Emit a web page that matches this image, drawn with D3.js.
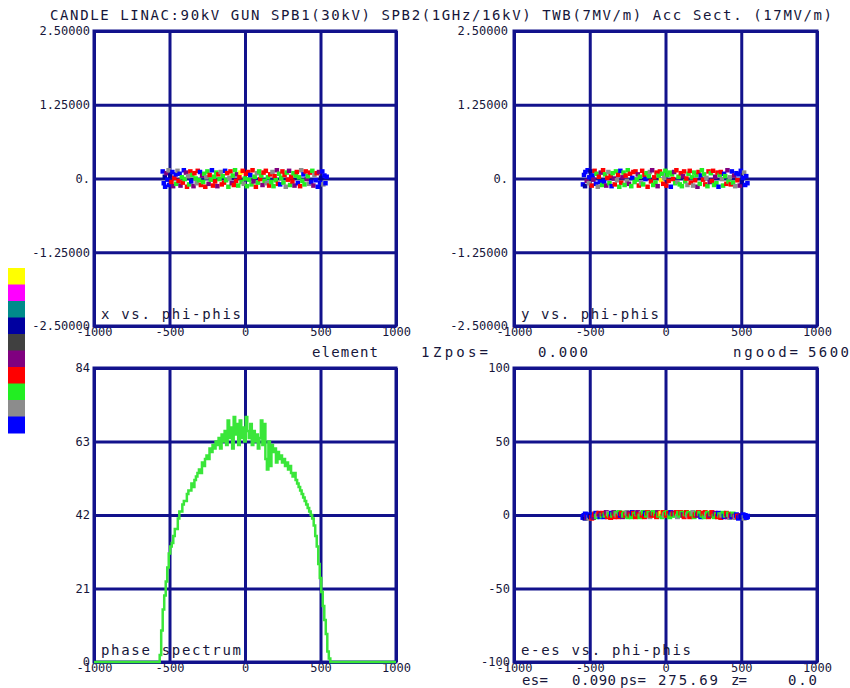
<!DOCTYPE html>
<html><head><meta charset="utf-8">
<script src="https://cdn.jsdelivr.net/npm/d3@7"></script>
<style>
html,body{margin:0;padding:0;background:#fff;}
svg{display:block;}
text{font-family:"DejaVu Sans Mono",monospace;fill:#16163a;}
</style>
</head><body><svg id="c" width="850" height="688"></svg>
<script>
// ---------- DATA ----------
const titleText = "CANDLE LINAC:90kV GUN SPB1(30kV)   SPB2(1GHz/16kV) TWB(7MV/m) Acc Sect. (17MV/m)";
const legendColors = ["#ffff00","#ff00ff","#008b8b","#0000a0","#404040","#800080","#ff0000","#22ee22","#8c8c8c","#0000ff"];

const phiTicks = [-1000,-500,0,500,1000];
const phiTickLabels = ["-1000","-500","0","500","1000"];
const xyTicks = [2.5,1.25,0,-1.25,-2.5];
const xyTickLabels = ["2.50000","1.25000","0.","-1.25000","-2.50000"];
const specTicks = [84,63,42,21,0];
const specTickLabels = ["84","63","42","21","0"];
const deTicks = [100,50,0,-50,-100];
const deTickLabels = ["100","50","0","-50","-100"];

// particle phases (deg), transverse x, y (cm), energy deviation, colour index
const phase = [-545,-538,-531,-529,-520,-514,-506,-503,-495,-487,
-481,-476,-468,-459,-455,-447,-440,-433,-427,-418,
-412,-405,-399,-391,-384,-377,-370,-362,-356,-349,
-341,-335,-327,-320,-313,-305,-298,-292,-284,-277,
-270,-263,-255,-249,-241,-234,-226,-219,-212,-204,
-198,-190,-183,-176,-169,-161,-154,-147,-139,-132,
-125,-118,-110,-103,-96,-88,-81,-74,-66,-59,
-52,-45,-37,-30,-23,-15,-8,-1,6,13,
21,28,35,43,50,57,64,72,79,86,
94,101,108,116,123,130,138,145,152,160,
167,174,182,189,196,204,211,218,226,233,
240,248,255,262,270,277,284,292,299,306,
314,321,328,336,343,350,358,365,372,380,
387,394,402,409,416,424,431,438,446,453,
460,468,475,482,490,497,504,512,519,526,
533,541];
const xVal = [0.12,-0.08,0.03,-0.14,0.09,-0.02,0.14,-0.11,0.05,-0.06,
0.11,-0.13,0.01,0.07,-0.09,0.13,-0.04,0.08,-0.12,0.02,
-0.07,0.14,-0.01,0.1,-0.14,0.04,-0.1,0.12,-0.05,0.06,
-0.13,0.09,0.0,-0.08,0.13,-0.03,0.11,-0.11,0.05,-0.06,
0.08,-0.14,0.02,0.12,-0.09,0.06,-0.02,0.14,-0.12,0.03,
-0.05,0.1,-0.13,0.07,-0.01,0.11,-0.1,0.04,-0.07,0.13,
-0.03,0.09,-0.14,0.01,0.12,-0.08,0.05,-0.11,0.14,-0.04,
0.07,-0.12,0.02,0.1,-0.06,0.13,-0.09,0.0,0.08,-0.13,
0.11,-0.02,0.06,-0.1,0.14,-0.05,0.03,-0.14,0.09,-0.07,
0.12,-0.01,0.05,-0.11,0.1,-0.04,0.13,-0.08,0.02,-0.12,
0.07,-0.06,0.11,-0.13,0.04,-0.03,0.14,-0.09,0.08,-0.1,
0.01,0.12,-0.07,0.06,-0.14,0.1,-0.02,0.13,-0.11,0.03,
-0.05,0.09,-0.12,0.05,0.11,-0.08,0.02,-0.13,0.14,-0.04,
0.07,-0.1,0.12,-0.01,0.04,-0.09,0.1,-0.06,0.13,-0.12,
0.06,-0.03,0.09,-0.14,0.11,-0.07,0.01,0.12,-0.1,0.05,
-0.08,0.03];
const yVal = [-0.1,0.06,-0.13,0.11,-0.04,0.14,-0.08,0.02,0.12,-0.12,
0.05,-0.02,0.13,-0.09,0.08,-0.14,0.03,-0.06,0.1,-0.11,
0.14,-0.05,0.07,-0.12,0.01,0.11,-0.08,0.04,-0.13,0.09,
0.0,-0.1,0.12,-0.03,0.06,-0.14,0.13,-0.07,0.02,0.1,
-0.11,0.05,-0.04,0.14,-0.09,0.08,-0.13,0.01,0.11,-0.06,
0.12,-0.02,0.07,-0.12,0.03,-0.08,0.13,-0.1,0.06,-0.01,
0.09,-0.14,0.04,0.11,-0.05,0.14,-0.11,0.02,-0.07,0.1,
-0.13,0.05,0.12,-0.03,0.08,-0.09,0.01,0.13,-0.12,0.06,
-0.04,0.1,-0.14,0.07,-0.01,0.11,-0.08,0.14,-0.06,0.03,
-0.1,0.09,-0.13,0.04,0.12,-0.05,0.0,-0.11,0.08,0.13,
-0.07,0.02,-0.12,0.1,-0.03,0.06,-0.14,0.11,-0.09,0.05,
0.14,-0.02,0.07,-0.1,0.01,-0.13,0.12,-0.06,0.09,-0.04,
0.13,-0.11,0.03,-0.08,0.1,-0.14,0.06,0.11,-0.01,-0.12,
0.08,0.04,-0.09,0.14,-0.05,0.02,-0.1,0.12,-0.07,0.05,
-0.13,0.09,-0.03,0.07,-0.12,0.13,-0.06,0.01,0.1,-0.11,
0.04,-0.08];
const deVal = [-1.5,-0.5,-2,0.5,-1.5,-1,-2,0,-1,-2,
-0.5,-1.5,0.5,1,-1,0,1,-1,0.5,-0.5,
1,-1,0,1.5,-1,1,0,-1.5,1,0,
1.5,-1,1,0,-1,1.5,0,1,-1,0,
1,0,1.5,-1,1,0,-1,1.5,1,0,
-1,1,1.5,0,-1,1,0,1.5,-1,1,
0,1.5,1,-1,0,1,1.5,0,1,-1,
1.5,0,1,1,-1,1.5,0,1,0,1.5,
1,-1,1.5,0,1,1,0,1.5,-1,1,
0,1.5,1,0,-1,1,1.5,0,1,-1,
0,1,1.5,-1,0,1,0,1.5,1,-1,
0,1,-1,1.5,0,1,-1,0,1,1.5,
0,-1,1,0,-1,1,0,-1.5,0,1,
-1,0,1,-1,0.5,-1.5,0,-1,0.5,-1,
-1.5,0,-1,-2,-0.5,-1.5,-1,0,-2,-0.5,
-1.5,-1];
const colorIdx = [9,9,3,9,5,9,8,9,3,6,
9,5,6,9,7,8,6,9,5,7,
6,9,7,5,6,8,7,6,9,7,
5,6,7,8,6,7,9,6,5,7,
7,6,8,7,5,6,7,9,6,7,
6,7,5,6,7,8,6,7,6,9,
7,6,7,8,6,5,7,6,7,6,
5,7,6,0,7,6,8,7,6,7,
6,7,9,7,6,5,7,6,8,7,
7,6,7,5,6,7,6,8,7,6,
6,7,8,7,6,7,5,6,7,9,
7,6,7,6,8,7,6,5,7,6,
6,7,5,7,6,9,7,6,8,7,
9,7,6,5,7,8,6,9,7,5,
8,9,6,9,5,9,3,9,8,9,
9,9];

// phase spectrum (bin centre, count)
const specPhase = [-1000,-570,-560,-550,-540,-530,-520,-510,-500,-490,-480,-470,-460,-450,-440,-430,-420,-410,-400,-390,-380,-370,-360,-350,-340,-330,-320,-310,-300,-290,-280,-270,-260,-250,-240,-230,-220,-210,-200,-190,-180,-170,-160,-150,-140,-130,-120,-110,-100,-90,-80,-70,-60,-50,-40,-30,-20,-10,0,10,20,30,40,50,60,70,80,90,100,110,120,130,140,150,160,170,180,190,200,210,220,230,240,250,260,270,280,290,300,310,320,330,340,350,360,370,380,390,400,410,420,430,440,450,460,470,480,490,500,510,520,530,540,550,560,570,1000];
const specCount = [0,0,2,9,15,19,23,27,31,33,34,36,38,38,41,43,43,45,46,46,48,49,49,51,50,52,53,54,55,54,57,56,58,59,58,61,60,62,61,63,62,64,61,65,63,66,62,69,64,67,61,70,65,68,62,69,64,67,63,70,66,64,68,62,66,63,65,61,64,69,62,68,58,55,63,56,62,60,61,57,60,58,59,57,58,56,57,55,56,54,53,54,52,51,50,49,48,47,46,45,44,43,42,41,39,36,33,28,24,20,16,12,8,3,1,0,0];

// ---------- DRAW ----------
const svg = d3.select("#c");
const navy = "#12128c";
const green = "#3ae63a";

svg.append("text").attr("x",50).attr("y",20).attr("font-size",14)
  .attr("textLength",782).attr("lengthAdjust","spacing").text(titleText);

// colour legend
const lg = d3.scaleBand().domain(d3.range(legendColors.length)).range([268,433]);
svg.append("g").selectAll("rect").data(legendColors).join("rect")
  .attr("x",8).attr("width",17).attr("y",(d,i)=>lg(i)).attr("height",lg.bandwidth()+0.5).attr("fill",d=>d);

function panel(cfg){
  const x = d3.scaleLinear().domain([-1000,1000]).range([cfg.x0,cfg.x1]);
  const y = d3.scaleLinear().domain(cfg.ydom).range([cfg.y1,cfg.y0]);
  const g = svg.append("g");
  const W = cfg.x1-cfg.x0, H = cfg.y1-cfg.y0;
  const gx = g.append("g").attr("transform",`translate(0,${cfg.y1})`)
    .call(d3.axisBottom(x).tickValues(phiTicks).tickSize(-H).tickPadding(3)
      .tickFormat((d,i)=>phiTickLabels[i]));
  const gy = g.append("g").attr("transform",`translate(${cfg.x0},0)`)
    .call(d3.axisLeft(y).tickValues(cfg.yticks).tickSize(-W).tickPadding(cfg.ypad)
      .tickFormat((d,i)=>cfg.ylabels[i]));
  [gx,gy].forEach(a=>{
    a.select(".domain").remove();
    a.selectAll("line").attr("stroke",navy).attr("stroke-width",3);
    a.selectAll("text").attr("font-size",12).attr("fill","#16163a")
      .style("font-family","'DejaVu Sans Mono',monospace");
  });
  gx.selectAll("text").attr("dy","0.55em");
  g.append("rect").attr("x",cfg.x0).attr("y",cfg.y0).attr("width",W).attr("height",H)
    .attr("fill","none").attr("stroke",navy).attr("stroke-width",3);
  g.append("text").attr("x",cfg.x0+7).attr("y",cfg.y1-7).attr("font-size",14)
    .attr("textLength",cfg.labLen).attr("lengthAdjust","spacing").text(cfg.label);
  return {x,y,g};
}

const P1 = panel({x0:94,x1:396,y0:31,y1:326,ydom:[-2.5,2.5],yticks:xyTicks,ylabels:xyTickLabels,ypad:4,label:"x vs. phi-phis",labLen:140});
const P2 = panel({x0:514,x1:817,y0:31,y1:326,ydom:[-2.5,2.5],yticks:xyTicks,ylabels:xyTickLabels,ypad:6,label:"y vs. phi-phis",labLen:138});
const P3 = panel({x0:94,x1:396,y0:368,y1:662,ydom:[0,84],yticks:specTicks,ylabels:specTickLabels,ypad:4,label:"phase spectrum",labLen:140});
const P4 = panel({x0:514,x1:817,y0:368,y1:662,ydom:[-100,100],yticks:deTicks,ylabels:deTickLabels,ypad:4,label:"e-es vs. phi-phis",labLen:170});

const idx = d3.range(phase.length);
function scatter(P, vals, w, h){
  P.g.append("g").selectAll("rect").data(idx).join("rect")
    .attr("x",i=>P.x(phase[i])-w/2).attr("y",i=>P.y(vals[i])-h/2)
    .attr("width",w).attr("height",h).attr("fill",i=>legendColors[colorIdx[i]]);
}
scatter(P1,xVal,4.5,4.5);
scatter(P2,yVal,4.5,4.5);
scatter(P4,deVal,5,5.5);

const line = d3.line().x((d,i)=>P3.x(specPhase[i])).y(d=>P3.y(d)).curve(d3.curveStep);
P3.g.append("path").datum(specCount).attr("d",line).attr("fill","none")
  .attr("stroke",green).attr("stroke-width",2.5);

// info texts
const info = [
  {x:312,y:357,t:"element",w:66},{x:421,y:357,t:"1",w:7},{x:433,y:357,t:"Zpos=",w:55},
  {x:538,y:357,t:"0.000",w:50},{x:733,y:357,t:"ngood=",w:65},{x:808,y:357,t:"5600",w:41},
  {x:522,y:685,t:"es=",w:26},{x:572,y:685,t:"0.090",w:44},{x:620,y:685,t:"ps=",w:26},
  {x:658,y:685,t:"275.69",w:60},{x:731,y:685,t:"z=",w:16},{x:788,y:685,t:"0.0",w:29}
];
svg.append("g").selectAll("text").data(info).join("text")
  .attr("x",d=>d.x).attr("y",d=>d.y).attr("font-size",14)
  .attr("textLength",d=>d.w).attr("lengthAdjust","spacing").text(d=>d.t);
</script>
</body></html>
